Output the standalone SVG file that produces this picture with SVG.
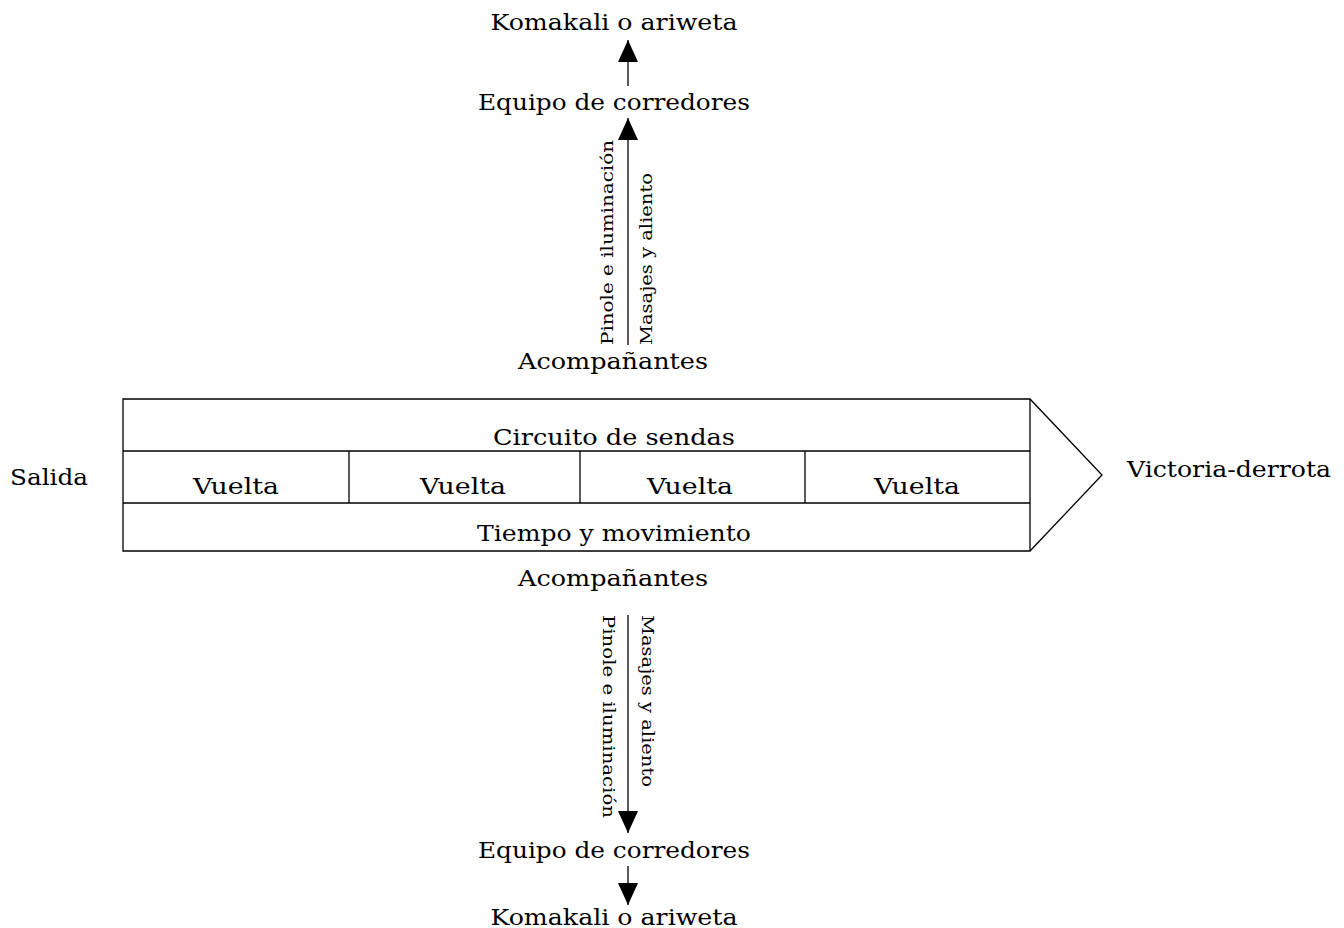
<svg xmlns="http://www.w3.org/2000/svg" width="1344" height="928" viewBox="0 0 1344 928">
<style>
text{font-family:"DejaVu Serif","Liberation Serif",serif;fill:#000;}
.t{font-size:23px;}
.s{font-size:17px;}
.ln{stroke:#000;stroke-width:1.3;fill:none;}
</style>
<defs>
<marker id="ah" viewBox="0 0 22 20" refX="22" refY="10" markerWidth="22" markerHeight="20" markerUnits="userSpaceOnUse" orient="auto">
<path d="M0,0 L22,10 L0,20 z" fill="#000"/>
</marker>
</defs>
<rect width="1344" height="928" fill="#fff"/>
<g id="process">
<path class="ln" d="M123,399 H1030 L1102,475 L1030,551 H123 Z"/>
<line class="ln" x1="1030" y1="399" x2="1030" y2="551"/>
<line class="ln" x1="123" y1="451" x2="1030" y2="451"/>
<line class="ln" x1="123" y1="503" x2="1030" y2="503"/>
<line class="ln" x1="349" y1="451" x2="349" y2="503"/>
<line class="ln" x1="580" y1="451" x2="580" y2="503"/>
<line class="ln" x1="805" y1="451" x2="805" y2="503"/>
<text class="t" x="614" y="445" text-anchor="middle" textLength="242" lengthAdjust="spacingAndGlyphs">Circuito de sendas</text>
<text class="t" x="236" y="494" text-anchor="middle" textLength="86" lengthAdjust="spacingAndGlyphs">Vuelta</text>
<text class="t" x="463" y="494" text-anchor="middle" textLength="86" lengthAdjust="spacingAndGlyphs">Vuelta</text>
<text class="t" x="690" y="494" text-anchor="middle" textLength="86" lengthAdjust="spacingAndGlyphs">Vuelta</text>
<text class="t" x="917" y="494" text-anchor="middle" textLength="86" lengthAdjust="spacingAndGlyphs">Vuelta</text>
<text class="t" x="614" y="541" text-anchor="middle" textLength="274" lengthAdjust="spacingAndGlyphs">Tiempo y movimiento</text>
</g>
<g id="salida"><text class="t" x="10" y="485" textLength="78" lengthAdjust="spacingAndGlyphs">Salida</text></g>
<g id="victoria"><text class="t" x="1127" y="477" textLength="204" lengthAdjust="spacingAndGlyphs">Victoria-derrota</text></g>
<g id="komakali-top"><text class="t" x="614" y="30" text-anchor="middle" textLength="247" lengthAdjust="spacingAndGlyphs">Komakali o ariweta</text></g>
<g id="equipo-top"><text class="t" x="614" y="110" text-anchor="middle" textLength="272" lengthAdjust="spacingAndGlyphs">Equipo de corredores</text></g>
<g id="acomp-top"><text class="t" x="613" y="369" text-anchor="middle" textLength="190" lengthAdjust="spacingAndGlyphs">Acompañantes</text></g>
<g id="acomp-bottom"><text class="t" x="613" y="586" text-anchor="middle" textLength="190" lengthAdjust="spacingAndGlyphs">Acompañantes</text></g>
<g id="equipo-bottom"><text class="t" x="614" y="858" text-anchor="middle" textLength="272" lengthAdjust="spacingAndGlyphs">Equipo de corredores</text></g>
<g id="komakali-bottom"><text class="t" x="614" y="925" text-anchor="middle" textLength="247" lengthAdjust="spacingAndGlyphs">Komakali o ariweta</text></g>
<g id="connectors">
<line class="ln" x1="628" y1="86" x2="628" y2="40" marker-end="url(#ah)"/>
<line class="ln" x1="628" y1="345" x2="628" y2="118" marker-end="url(#ah)"/>
<line class="ln" x1="628" y1="615" x2="628" y2="833" marker-end="url(#ah)"/>
<line class="ln" x1="628" y1="866" x2="628" y2="905" marker-end="url(#ah)"/>
<text class="s" transform="translate(613,345) rotate(-90)" textLength="205" lengthAdjust="spacingAndGlyphs">Pinole e iluminación</text>
<text class="s" transform="translate(652,345) rotate(-90)" textLength="172" lengthAdjust="spacingAndGlyphs">Masajes y aliento</text>
<text class="s" transform="translate(603,615) rotate(90)" textLength="203" lengthAdjust="spacingAndGlyphs">Pinole e iluminación</text>
<text class="s" transform="translate(642,615) rotate(90)" textLength="172" lengthAdjust="spacingAndGlyphs">Masajes y aliento</text>
</g>
</svg>
